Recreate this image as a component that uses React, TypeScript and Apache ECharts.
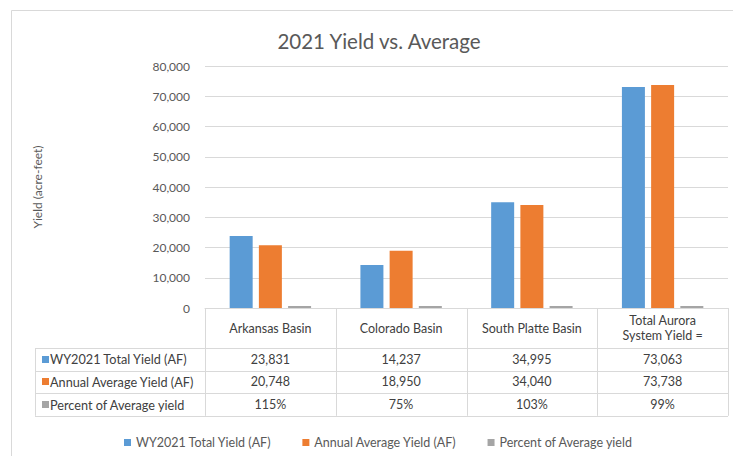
import React, { useEffect, useRef } from "react";
import * as echarts from "echarts";

const titleText = "2021 Yield vs. Average";
const yAxisName = "Yield (acre-feet)";
const categories = ["Arkansas Basin", "Colorado Basin", "South Platte Basin", "Total Aurora\nSystem Yield ="];
const seriesNames = ["WY2021 Total Yield (AF)", "Annual Average Yield (AF)", "Percent of Average yield"];
const wy2021Yield = [23831, 14237, 34995, 73063];
const annualAverageYield = [20748, 18950, 34040, 73738];
const percentOfAverage = [1.15, 0.75, 1.03, 0.99];
const colors = ["#5b9bd5", "#ed7d31", "#a5a5a5"];

const FONT = "Lato, 'Open Sans', sans-serif";
const LINE = "#d9d9d9";
const TEXT = "#404040";

const fmtNum = (v: number) => v.toLocaleString("en-US");
const fmtPct = (v: number) => Math.round(v * 100) + "%";

export default function App() {
  const ref = useRef<HTMLDivElement>(null);
  useEffect(() => {
    if (!ref.current) return;
    const chart = echarts.init(ref.current, undefined, { renderer: "svg" });
    const option: any = {
      animation: false,
      backgroundColor: "#ffffff",
      textStyle: { fontFamily: FONT },
      title: {
        text: titleText,
        left: 374,
        textAlign: "center",
        top: 25,
        textStyle: { fontFamily: FONT, fontSize: 20.5, fontWeight: "normal", color: "#595959" },
      },
      grid: { left: 205, right: 5, top: 66, bottom: 148, containLabel: false },
      legend: {
        data: seriesNames,
        left: 119,
        top: 431,
        icon: "rect",
        itemWidth: 7,
        itemHeight: 7,
        itemGap: 31,
        textStyle: { fontFamily: FONT, fontSize: 12.5, color: "#595959" },
      },
      xAxis: {
        type: "category",
        data: categories,
        axisLine: { lineStyle: { color: LINE } },
        axisTick: { show: false },
        axisLabel: {
          interval: 0,
          margin: 20,
          verticalAlign: "middle",
          lineHeight: 15,
          fontSize: 12.5,
          color: TEXT,
          fontFamily: FONT,
        },
      },
      yAxis: {
        type: "value",
        min: 0,
        max: 80000,
        interval: 10000,
        name: yAxisName,
        nameLocation: "middle",
        nameGap: 162,
        nameRotate: 90,
        nameTextStyle: { fontFamily: FONT, fontSize: 12, color: "#595959" },
        axisLine: { show: false },
        axisTick: { show: false },
        axisLabel: { margin: 15, fontSize: 12, color: "#595959", fontFamily: FONT, formatter: (v: number) => fmtNum(v) },
        splitLine: { lineStyle: { color: LINE } },
      },
      series: [
        { name: seriesNames[0], type: "bar", data: wy2021Yield, barWidth: 23, barGap: "27%", itemStyle: { color: colors[0] } },
        { name: seriesNames[1], type: "bar", data: annualAverageYield, barWidth: 23, barGap: "27%", itemStyle: { color: colors[1] } },
        { name: seriesNames[2], type: "bar", data: percentOfAverage, barWidth: 23, barGap: "27%", barMinHeight: 2, itemStyle: { color: colors[2] } },
      ],
    };
    chart.setOption(option);

    // Build the data table under the axis, positioned from the chart's own scales
    const centers = categories.map((_, i) => chart.convertToPixel({ xAxisIndex: 0 }, i) as unknown as number);
    const band = centers.length > 1 ? centers[1] - centers[0] : 130;
    const y0 = chart.convertToPixel({ yAxisIndex: 0 }, 0) as unknown as number;
    const leftEdge = centers[0] - band / 2;
    const rightEdge = centers[centers.length - 1] + band / 2;
    const tableLeft = 35;
    const headerBottom = y0 + 40;
    const rowH = 22.6;
    const rows = [wy2021Yield.map(fmtNum), annualAverageYield.map(fmtNum), percentOfAverage.map(fmtPct)];
    const tableBottom = headerBottom + rowH * rows.length;

    const els: any[] = [];
    // outer chart border
    els.push({ type: "line", silent: true, shape: { x1: 11.5, y1: 10.5, x2: 740, y2: 10.5 }, style: { stroke: LINE, lineWidth: 1 } });
    els.push({ type: "line", silent: true, shape: { x1: 11.5, y1: 10.5, x2: 11.5, y2: 470 }, style: { stroke: LINE, lineWidth: 1 } });
    // vertical lines at category boundaries
    for (let i = 0; i <= centers.length; i++) {
      const x = Math.round(leftEdge + i * band) + 0.5;
      els.push({ type: "line", silent: true, shape: { x1: x, y1: y0, x2: x, y2: tableBottom }, style: { stroke: LINE, lineWidth: 1 } });
    }
    els.push({ type: "line", silent: true, shape: { x1: tableLeft + 0.5, y1: headerBottom, x2: tableLeft + 0.5, y2: tableBottom }, style: { stroke: LINE, lineWidth: 1 } });
    for (let r = 0; r <= rows.length; r++) {
      const y = Math.round(headerBottom + r * rowH) + 0.5;
      els.push({ type: "line", silent: true, shape: { x1: tableLeft, y1: y, x2: rightEdge, y2: y }, style: { stroke: LINE, lineWidth: 1 } });
    }
    rows.forEach((vals, r) => {
      const cy = headerBottom + r * rowH + rowH / 2;
      els.push({ type: "rect", silent: true, shape: { x: 42, y: Math.round(cy - 3.5), width: 7, height: 7 }, style: { fill: colors[r] } });
      els.push({
        type: "text",
        silent: true,
        x: 50,
        y: cy,
        style: { text: seriesNames[r], fill: TEXT, font: `12.7px ${FONT}`, textAlign: "left", textVerticalAlign: "middle" },
      });
      vals.forEach((v, c) => {
        els.push({
          type: "text",
          silent: true,
          x: centers[c],
          y: cy,
          style: { text: v, fill: TEXT, font: `12.5px ${FONT}`, textAlign: "center", textVerticalAlign: "middle" },
        });
      });
    });
    chart.setOption({ graphic: els });

    return () => chart.dispose();
  }, []);
  return <div ref={ref} style={{ position: "fixed", left: 0, top: 0, width: 733, height: 456 }} />;
}
